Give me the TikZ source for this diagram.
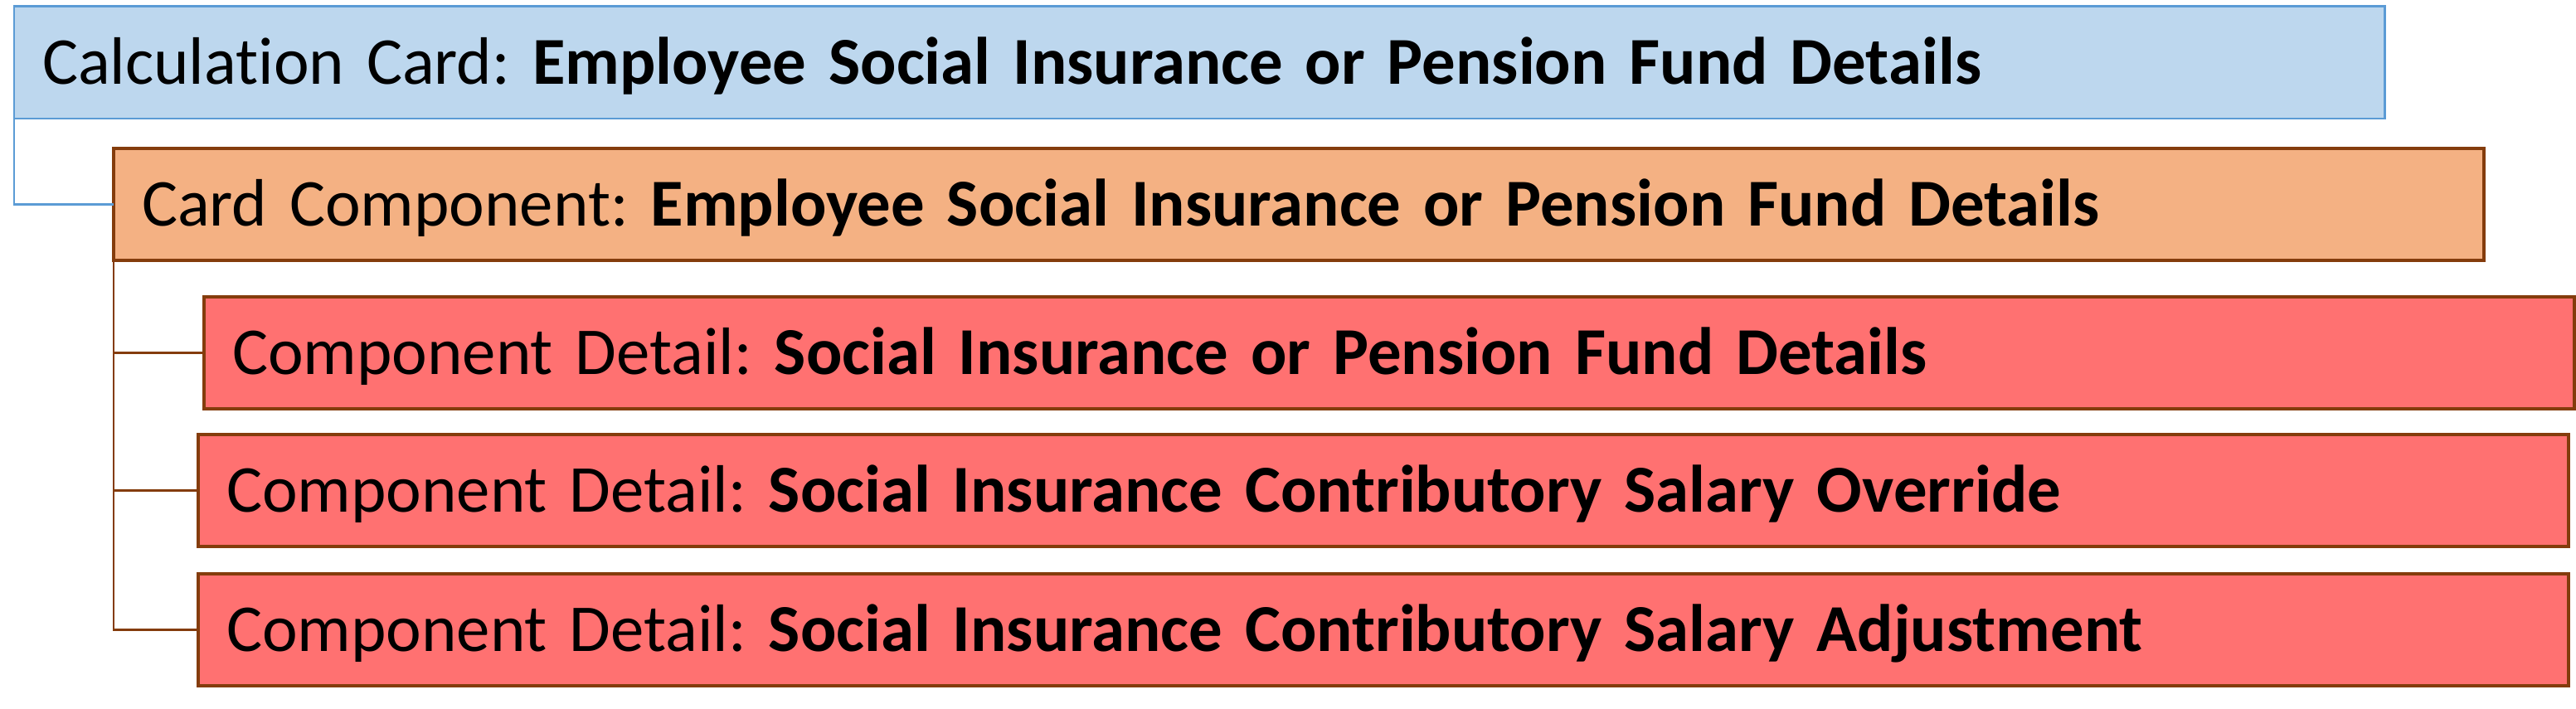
\documentclass[tikz,border=0pt]{standalone}
\usepackage{fontspec}
\setmainfont{Carlito}[Ligatures=NoCommon]
\frenchspacing
\usetikzlibrary{positioning}
\definecolor{calcfill}{HTML}{BDD7EE}
\definecolor{calcline}{HTML}{5B9BD5}
\definecolor{compfill}{HTML}{F4B183}
\definecolor{detfill}{HTML}{FF7171}
\definecolor{brownline}{HTML}{843C0C}
\tikzset{
	% box style
	box/.style={
		rectangle,
		draw=brownline, line width=1pt,
		fill=detfill,
		outer sep=0pt,
		inner xsep=0.34cm,
		minimum height=1.35cm,
		text width=27.9cm,
		align=left,
		font=\fontsize{23}{27}\selectfont,
		text height=14.8pt,
		text depth=0pt
	},
	% top level box
	calcbox/.style={
		box,
		draw=calcline, line width=0.85pt,
		fill=calcfill
	},
	% second level box
	compbox/.style={
		box,
		fill=compfill
	},
	% connector style
	link/.style={
		draw=brownline,
		line width=0.6pt
	}
}
\begin{document}
\begin{tikzpicture}[node distance=0.33cm]
	\useasboundingbox (0,0) rectangle (31.06,-8.55);
	\node[calcbox,anchor=north west] (calc) at (0.17,-0.08)
		{Calculation Card: \textbf{Employee Social Insurance or Pension Fund Details}};
	\node[compbox,below right=0.36cm and 1.2cm of calc.south west] (comp)
		{Card Component: \textbf{Employee Social Insurance or Pension Fund Details}};
	\node[box,below right=0.44cm and 1.09cm of comp.south west] (det1)
		{Component Detail: \textbf{Social Insurance or Pension Fund Details}};
	\node[box,below=0.31cm of det1.south west,anchor=north west,xshift=-0.07cm] (det2)
		{Component Detail: \textbf{Social Insurance Contributory Salary Override}};
	\node[box,below=of det2] (det3)
		{Component Detail: \textbf{Social Insurance Contributory Salary Adjustment}};

	\draw[link,draw=calcline] (calc.south west) |- (comp.west);
	\draw[link] (comp.south west) |- (det1.west);
	\draw[link] (comp.south west) |- (det2.west);
	\draw[link] (comp.south west) |- (det3.west);
\end{tikzpicture}
\end{document}
